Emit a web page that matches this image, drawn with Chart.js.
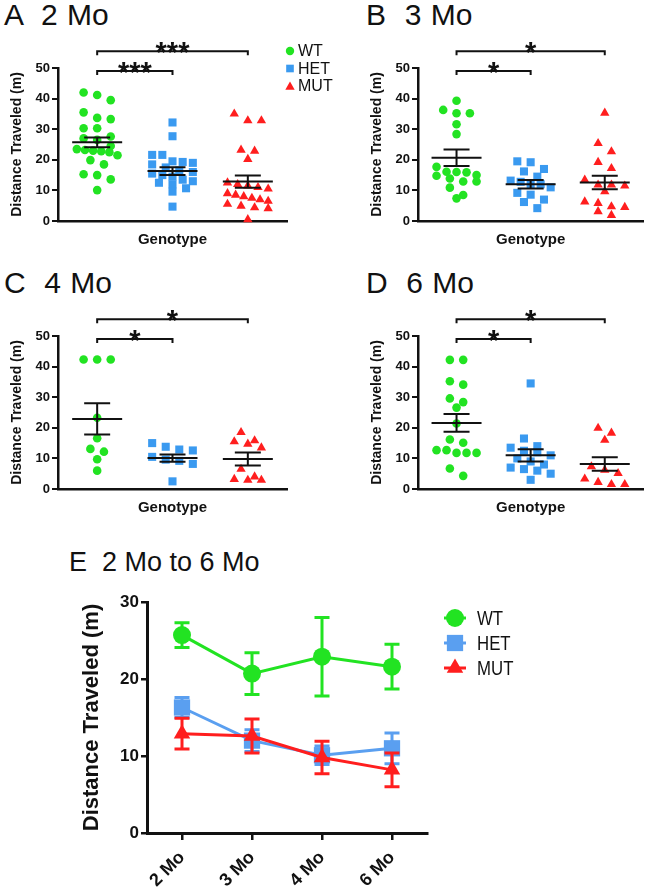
<!DOCTYPE html>
<html><head><meta charset="utf-8">
<script src="https://cdn.jsdelivr.net/npm/chart.js@4.4.1/dist/chart.umd.min.js"></script>
<style>
html,body{margin:0;padding:0;background:#fff}
body{width:649px;height:896px;overflow:hidden;position:relative;font-family:'Liberation Sans',Arial,Helvetica,sans-serif}
.t{position:absolute;font-size:30px;line-height:30px;white-space:pre;color:#111;word-spacing:1px}
canvas{position:absolute}
</style></head><body>
<div class="t" style="left:4px;top:0px">A  2 Mo</div>
<div class="t" style="left:366px;top:0px">B  3 Mo</div>
<div class="t" style="left:4px;top:268px">C  4 Mo</div>
<div class="t" style="left:366px;top:268px">D  6 Mo</div>
<div class="t" style="left:69px;top:548px;font-size:27px;line-height:28px;word-spacing:0">E  2 Mo to 6 Mo</div>
<canvas id="cA" width="340" height="262" style="left:0;top:0"></canvas>
<canvas id="cB" width="289" height="262" style="left:360px;top:0"></canvas>
<canvas id="cC" width="340" height="262" style="left:0;top:268px"></canvas>
<canvas id="cD" width="289" height="262" style="left:360px;top:268px"></canvas>
<canvas id="cE" width="649" height="376" style="left:0;top:520px"></canvas>
<script>
// ---------------- DATA ----------------
const GROUPS = ['WT', 'HET', 'MUT'];
const TIMEPOINTS = ['2 Mo', '3 Mo', '4 Mo', '6 Mo'];
const Y_TICKS_SCATTER = [0, 10, 20, 30, 40, 50];
const Y_TICKS_LINE = [0, 10, 20, 30];
const SIG_HET_VS_WT = ['***', '*', '*', '*'];
const SIG_MUT_VS_WT = ['***', '*', '*', '*'];

const WT_2MO  = [42.0, 41.2, 39.5, 35.5, 33.7, 33.3, 30.3, 30.3, 27.6, 27.0, 26.5, 24.5, 23.5, 23.2, 23.0, 22.8, 22.5, 21.5, 19.9, 18.5, 15.3, 15.0, 13.6, 10.1];
const HET_2MO = [32.2, 27.7, 21.6, 21.6, 19.5, 19.3, 19.0, 18.5, 17.5, 16.5, 16.0, 15.5, 15.0, 14.5, 13.5, 13.0, 12.5, 12.0, 10.7, 9.6, 4.7];
const MUT_2MO = [35.0, 32.8, 32.8, 23.2, 22.9, 20.2, 12.5, 12.0, 11.5, 11.0, 10.5, 9.0, 8.5, 8.0, 7.5, 7.0, 6.5, 5.5, 4.9, 4.4, 4.1, 0.5];
const WT_3MO  = [39.3, 36.3, 35.2, 35.2, 31.6, 28.4, 17.7, 16.1, 16.0, 15.9, 15.0, 14.8, 13.9, 12.9, 12.9, 10.9, 8.5, 7.4];
const HET_3MO = [19.5, 19.2, 17.0, 16.2, 14.5, 13.2, 12.8, 12.1, 12.0, 11.0, 9.2, 8.6, 7.0, 6.2, 4.2];
const MUT_3MO = [35.3, 25.4, 22.7, 19.2, 17.2, 13.4, 11.8, 11.8, 11.5, 9.6, 6.3, 5.8, 4.7, 4.5, 3.1, 1.9];
const WT_4MO  = [42.3, 42.3, 42.3, 23.3, 16.6, 13.1, 12.2, 9.7, 6.0];
const HET_4MO = [15.0, 13.8, 12.9, 12.6, 10.5, 9.6, 9.2, 8.2, 2.5];
const MUT_4MO = [18.5, 15.8, 15.5, 14.7, 13.5, 6.5, 4.0, 3.2, 2.9, 2.9];
const WT_6MO  = [42.2, 42.2, 35.2, 34.1, 29.6, 28.4, 26.6, 21.4, 16.2, 15.1, 12.7, 12.7, 11.8, 11.8, 11.8, 6.7, 4.3];
const HET_6MO = [34.5, 16.5, 14.0, 13.5, 12.5, 12.0, 11.0, 10.0, 9.0, 8.0, 7.0, 6.5, 6.0, 5.0, 3.0];
const MUT_6MO = [19.9, 18.3, 16.0, 7.3, 6.2, 5.1, 3.3, 2.2, 1.5, 1.5];

const WT_MEAN  = [25.7, 20.7, 22.9, 21.6];
const WT_SEM   = [1.6, 2.7, 5.1, 2.9];
const HET_MEAN = [16.3, 12.0, 10.1, 11.0];
const HET_SEM  = [1.3, 1.4, 1.2, 2.0];
const MUT_MEAN = [12.9, 12.6, 9.8, 8.2];
const MUT_SEM  = [2.0, 2.2, 2.1, 2.2];

// ---------------- STYLE ----------------
const INK = '#111111';
const FONT = "'Liberation Sans', Arial, Helvetica, sans-serif";
const COL_SC = ['#22E322', '#3A9AF0', '#FF1E1E'];
const COL_LN = ['#22E322', '#5A9FF0', '#FF1E1E'];
const STYLES = ['circle', 'rect', 'triangle'];

function drawMarker(ctx, style, x, y, r, color) {
  ctx.save();
  ctx.fillStyle = color;
  ctx.beginPath();
  if (style === 'circle') {
    ctx.arc(x, y, r, 0, Math.PI * 2);
  } else if (style === 'rect') {
    const s = r * Math.SQRT1_2;
    ctx.rect(x - s, y - s, 2 * s, 2 * s);
  } else {
    let a = 0;
    ctx.moveTo(x + Math.sin(a) * r, y - Math.cos(a) * r);
    a += 2 * Math.PI / 3;
    ctx.lineTo(x + Math.sin(a) * r, y - Math.cos(a) * r);
    a += 2 * Math.PI / 3;
    ctx.lineTo(x + Math.sin(a) * r, y - Math.cos(a) * r);
    ctx.closePath();
  }
  ctx.fill();
  ctx.restore();
}

// deterministic column-scatter layout (bins of similar values spread sideways)
function swarm(values, center) {
  const BIN = 2.8, STEP = 0.18, MAXHALF = 0.27;
  const sorted = values.slice().sort((a, b) => b - a);
  const pts = [];
  let k = 0;
  while (k < sorted.length) {
    const bin = [sorted[k]];
    let j = k + 1;
    while (j < sorted.length && sorted[k] - sorted[j] < BIN) { bin.push(sorted[j]); j++; }
    const n = bin.length;
    const s = n > 1 ? Math.min(STEP, 2 * MAXHALF / (n - 1)) : 0;
    bin.forEach((v, idx) => pts.push({ x: center + (idx - (n - 1) / 2) * s, y: v }));
    k = j;
  }
  return pts;
}

const PANELS = [
  { id: 'cA', vals: [WT_2MO, HET_2MO, MUT_2MO], t: 0, legend: true, padRight: 53 },
  { id: 'cB', vals: [WT_3MO, HET_3MO, MUT_3MO], t: 1, legend: false, padRight: 2 },
  { id: 'cC', vals: [WT_4MO, HET_4MO, MUT_4MO], t: 2, legend: false, padRight: 53 },
  { id: 'cD', vals: [WT_6MO, HET_6MO, MUT_6MO], t: 3, legend: false, padRight: 2 }
];
const MEANS = [WT_MEAN, HET_MEAN, MUT_MEAN];
const SEMS = [WT_SEM, HET_SEM, MUT_SEM];

function scatterPanel(p) {
  const t = p.t;
  const overlay = {
    id: 'overlay' + t,
    afterDatasetsDraw(chart) {
      const ctx = chart.ctx, xs = chart.scales.x, ys = chart.scales.y;
      ctx.save();
      ctx.strokeStyle = INK;
      ctx.lineWidth = 2;
      for (let g = 0; g < 3; g++) {
        const cx = xs.getPixelForValue(g + 1);
        const m = MEANS[g][t], s = SEMS[g][t];
        const ym = ys.getPixelForValue(m), yt = ys.getPixelForValue(m + s), yb = ys.getPixelForValue(m - s);
        ctx.beginPath();
        ctx.moveTo(cx - 25, ym); ctx.lineTo(cx + 25, ym);
        ctx.moveTo(cx, yt); ctx.lineTo(cx, yb);
        ctx.moveTo(cx - 13, yt); ctx.lineTo(cx + 13, yt);
        ctx.moveTo(cx - 13, yb); ctx.lineTo(cx + 13, yb);
        ctx.stroke();
      }
      const brackets = [[2, 49, SIG_HET_VS_WT[t]], [3, 55.5, SIG_MUT_VS_WT[t]]];
      ctx.fillStyle = INK;
      ctx.font = 'bold 29px ' + FONT;
      ctx.textAlign = 'center';
      ctx.textBaseline = 'alphabetic';
      brackets.forEach(([g2, lvl, lab]) => {
        const x1 = xs.getPixelForValue(1), x2 = xs.getPixelForValue(g2), y = ys.getPixelForValue(lvl);
        ctx.beginPath();
        ctx.moveTo(x1, y + 4); ctx.lineTo(x1, y); ctx.lineTo(x2, y); ctx.lineTo(x2, y + 4);
        ctx.stroke();
        ctx.fillText(lab, (x1 + x2) / 2, y + 11);
      });
      if (p.legend) {
        const ca = chart.chartArea;
        ctx.font = '16px ' + FONT;
        ctx.textAlign = 'left';
        ctx.textBaseline = 'middle';
        const rs = [4.2, 5.4, 5.4];
        GROUPS.forEach((g, i) => {
          const y = ca.top - 17 + i * 17.5;
          drawMarker(ctx, STYLES[i], ca.right + 3, y + (i === 2 ? 1 : 0), rs[i], COL_SC[i]);
          ctx.fillStyle = INK;
          ctx.fillText(g, ca.right + 11, y + 1);
        });
      }
      ctx.restore();
    }
  };
  return new Chart(document.getElementById(p.id), {
    type: 'scatter',
    data: {
      datasets: GROUPS.map((g, gi) => ({
        label: g,
        data: swarm(p.vals[gi], gi + 1),
        pointStyle: STYLES[gi],
        pointRadius: [4.3, 5.7, 5.4][gi],
        backgroundColor: COL_SC[gi],
        borderColor: COL_SC[gi],
        borderWidth: 0,
        clip: false
      }))
    },
    options: {
      responsive: false,
      animation: false,
      events: [],
      layout: { padding: { left: 0, top: 68, right: p.padRight, bottom: 0 } },
      plugins: { legend: { display: false }, tooltip: { enabled: false } },
      scales: {
        x: {
          type: 'linear', min: 0.48, max: 3.52,
          ticks: { display: false },
          grid: { display: false },
          border: { display: true, color: INK, width: 2.5 },
          title: { display: true, text: 'Genotype', color: INK, font: { family: FONT, size: 15, weight: 'bold' }, padding: { top: 0, bottom: 13 } },
          afterFit(s) { s.height = 41; }
        },
        y: {
          min: 0, max: 50,
          afterBuildTicks(s) { s.ticks = Y_TICKS_SCATTER.map(v => ({ value: v })); },
          ticks: { color: INK, font: { family: FONT, size: 13, weight: 'bold' }, padding: 2 },
          grid: { display: true, drawOnChartArea: false, drawTicks: true, tickLength: 6, color: INK, lineWidth: 2 },
          border: { display: true, color: INK, width: 2.5 },
          title: { display: true, text: 'Distance Traveled (m)', color: INK, font: { family: FONT, size: 14, weight: 'bold' }, padding: { top: 8.6 } },
          afterFit(s) { s.width = 58; }
        }
      }
    },
    plugins: [overlay]
  });
}
PANELS.forEach(scatterPanel);

// ---------------- PANEL E ----------------
const LINE_R = [9, 11.5, 9.5];
const errorBars = {
  id: 'errorBars',
  beforeDatasetDraw(chart, args) {
    const i = args.index, ctx = chart.ctx, ys = chart.scales.y;
    const meta = chart.getDatasetMeta(i);
    ctx.save();
    ctx.strokeStyle = COL_LN[i];
    ctx.lineWidth = 3;
    meta.data.forEach((pt, k) => {
      const m = MEANS[i][k], s = SEMS[i][k];
      const yt = ys.getPixelForValue(m + s), yb = ys.getPixelForValue(m - s);
      ctx.beginPath();
      ctx.moveTo(pt.x, yt); ctx.lineTo(pt.x, yb);
      ctx.moveTo(pt.x - 7.5, yt); ctx.lineTo(pt.x + 7.5, yt);
      ctx.moveTo(pt.x - 7.5, yb); ctx.lineTo(pt.x + 7.5, yb);
      ctx.stroke();
    });
    ctx.restore();
  },
  afterDraw(chart) {
    const ctx = chart.ctx, ca = chart.chartArea;
    ctx.save();
    ctx.textAlign = 'left';
    ctx.textBaseline = 'middle';
    GROUPS.forEach((g, i) => {
      const y = ca.top + 16 + i * 25;
      const x = ca.right + 28;
      ctx.strokeStyle = COL_LN[i];
      ctx.lineWidth = 3;
      ctx.beginPath(); ctx.moveTo(x - 11, y); ctx.lineTo(x + 11, y); ctx.stroke();
      drawMarker(ctx, STYLES[i], x, y, LINE_R[i], COL_LN[i]);
      ctx.save();
      ctx.translate(ca.right + 50, y + 1);
      ctx.scale(0.8, 1);
      ctx.font = '21px ' + FONT;
      ctx.fillStyle = INK;
      ctx.fillText(g, 0, 0);
      ctx.restore();
    });
    ctx.restore();
  }
};
new Chart(document.getElementById('cE'), {
  type: 'line',
  data: {
    labels: TIMEPOINTS,
    datasets: GROUPS.map((g, gi) => ({
      label: g,
      data: MEANS[gi],
      borderColor: COL_LN[gi],
      backgroundColor: COL_LN[gi],
      borderWidth: 3,
      pointStyle: STYLES[gi],
      pointRadius: LINE_R[gi],
      pointBorderWidth: 0,
      tension: 0,
      fill: false,
      clip: false,
      order: 2 - gi
    }))
  },
  options: {
    responsive: false,
    animation: false,
    events: [],
    layout: { padding: { left: 0, top: 82, right: 222, bottom: 0 } },
    plugins: { legend: { display: false }, tooltip: { enabled: false } },
    scales: {
      x: {
        type: 'category', offset: true,
        ticks: { color: INK, font: { family: FONT, size: 18, weight: 'bold' }, minRotation: 45, maxRotation: 45, padding: 7 },
        grid: { display: true, offset: false, drawOnChartArea: false, drawTicks: true, tickLength: 7, color: INK, lineWidth: 2.5 },
        border: { display: true, color: INK, width: 3 },
        afterFit(s) { s.height = 63; }
      },
      y: {
        min: 0, max: 30,
        afterBuildTicks(s) { s.ticks = Y_TICKS_LINE.map(v => ({ value: v })); },
        ticks: { color: INK, font: { family: FONT, size: 17, weight: 'bold' }, padding: 2 },
        grid: { display: true, drawOnChartArea: false, drawTicks: true, tickLength: 6, color: INK, lineWidth: 2.5 },
        border: { display: true, color: INK, width: 3 },
        title: { display: true, text: 'Distance Traveled (m)', color: INK, font: { family: FONT, size: 22, weight: 'bold' }, padding: { top: 79 } },
        afterFit(s) { s.width = 147; }
      }
    }
  },
  plugins: [errorBars]
});
</script>
</body></html>
